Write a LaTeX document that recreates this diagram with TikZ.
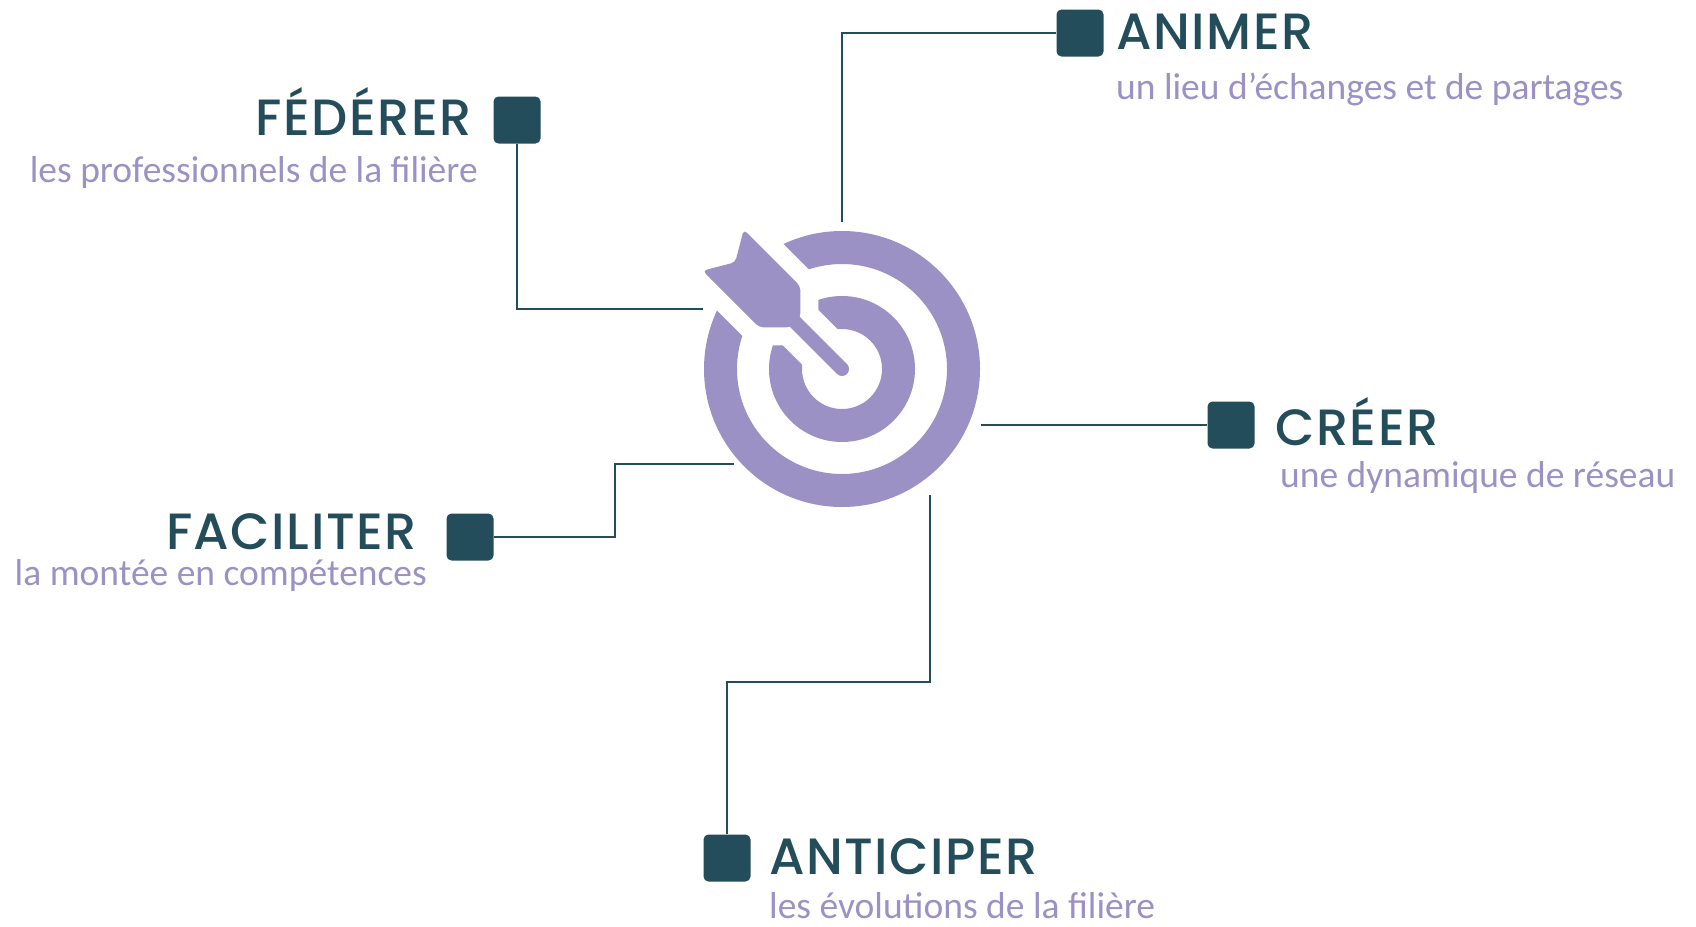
\documentclass[tikz,border=0pt]{standalone}
\usepackage{fontspec}
\usepackage{tikz}
\setmainfont{Carlito}
\newfontfamily\titlefont[LetterSpace=3]{Poppins Medium}
\definecolor{darkteal}{HTML}{234D5B}
\definecolor{lilac}{HTML}{9B91C5}

\begin{document}
\begin{tikzpicture}[x=1pt,y=-1pt,
    title/.style={inner sep=0pt, text=darkteal, font=\titlefont\fontsize{51}{54}\selectfont},
    subtitle/.style={inner sep=0pt, text=lilac, font=\fontsize{37.5}{42}\selectfont},
    marker/.style={fill=darkteal, rounded corners=5pt, minimum size=47pt, inner sep=0pt},
    link/.style={draw=darkteal, line width=2pt}]
    \useasboundingbox (0,0) rectangle (1696,926);

    % Draw the target rings
    \coordinate (ctr) at (842,369);
    \fill[lilac, even odd rule] (ctr) circle (138) (ctr) circle (105) (ctr) circle (73) (ctr) circle (40);

    % Arrow, with a white gap round it
    \begin{scope}[shift={(ctr)}, x={(-0.7071pt,0.7071pt)}, y={(0.7071pt,0.7071pt)}]
        \draw[white, line width=50pt, line cap=round] (0,0) -- (70,0);
        \filldraw[white, line width=36pt, line join=round] (66,-7) -- (88,-29) -- (168,-29) -- (151,0) -- (168,29) -- (88,29) -- (66,7) -- cycle;
        \draw[lilac, line width=14pt, line cap=round] (0,0) -- (70,0);
        \fill[lilac, rounded corners=4pt] (66,-7) -- (88,-29) -- (168,-29) -- (151,0) -- (168,29) -- (88,29) -- (66,7) -- cycle;
    \end{scope}

    % Draw the square markers
    \node[marker] (fed) at (517,120) {};
    \node[marker] (ani) at (1080,33) {};
    \node[marker] (cre) at (1231,425) {};
    \node[marker] (fac) at (470,537) {};
    \node[marker] (ant) at (727,858) {};

    % Label verbs and their texts
    \node[title, anchor=base east] (fedT) at (472,135) {FÉDÉRER};
    \node[subtitle, anchor=base east] (fedS) at (478,182) {les professionnels de la filière};
    \node[title, anchor=base west] (aniT) at (1116,49) {ANIMER};
    \node[subtitle, anchor=base west] (aniS) at (1116,99) {un lieu d’échanges et de partages};
    \node[title, anchor=base west] (creT) at (1275,445) {CRÉER};
    \node[subtitle, anchor=base west] (creS) at (1280,487) {une dynamique de réseau};
    \node[title, anchor=base east] (facT) at (417,549) {FACILITER};
    \node[subtitle, anchor=base east] (facS) at (427,585) {la montée en compétences};
    \node[title, anchor=base west] (antT) at (769,874) {ANTICIPER};
    \node[subtitle, anchor=base west] (antS) at (769,918) {les évolutions de la filière};

    % Connect the markers to the target
    \coordinate (fedEnd) at (703,309);
    \coordinate (aniEnd) at (842,222);
    \coordinate (creEnd) at (981,425);
    \coordinate (facBend) at (615,537);
    \coordinate (facEnd) at (734,464);
    \coordinate (antBend) at (930,682);
    \coordinate (antEnd) at (930,495);
    \draw[link] (fed.south) |- (fedEnd);
    \draw[link] (ani.west) -| (aniEnd);
    \draw[link] (cre.west) -- (creEnd);
    \draw[link] (fac.east) -- (facBend) |- (facEnd);
    \draw[link] (ant.north) |- (antBend) -- (antEnd);
\end{tikzpicture}
\end{document}
